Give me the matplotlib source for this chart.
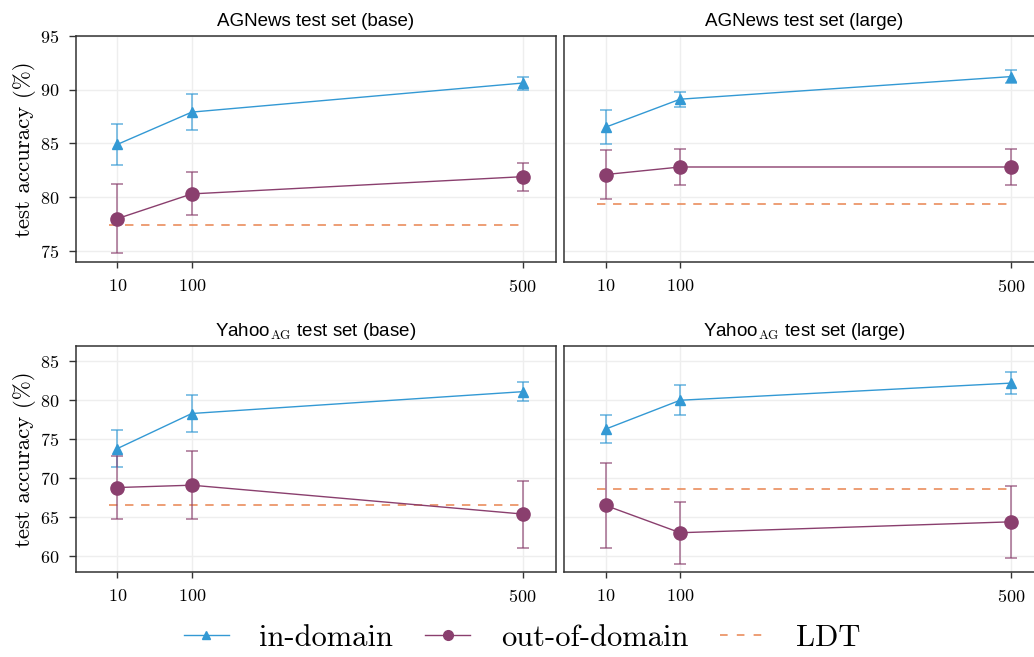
import matplotlib
matplotlib.use("Agg")
import matplotlib.pyplot as plt
from matplotlib.lines import Line2D

plt.rcParams['font.family'] = ['cmr10', 'DejaVu Serif']
plt.rcParams['mathtext.fontset'] = 'cm'
plt.rcParams['axes.formatter.use_mathtext'] = True

# Data
shots = [10, 100, 500]
titles = ['AGNews test set (base)', 'AGNews test set (large)',
          r'Yahoo$_{\mathrm{AG}}$ test set (base)', r'Yahoo$_{\mathrm{AG}}$ test set (large)']

in_mean = [[84.9, 87.9, 90.6], [86.5, 89.1, 91.2], [73.8, 78.3, 81.1], [76.3, 80.0, 82.2]]
in_err = [[1.9, 1.7, 0.6], [1.6, 0.7, 0.6], [2.4, 2.4, 1.2], [1.75, 1.9, 1.4]]
out_mean = [[78.0, 80.3, 81.9], [82.1, 82.8, 82.8], [68.8, 69.1, 65.4], [66.5, 63.0, 64.4]]
out_err = [[3.2, 2.0, 1.3], [2.3, 1.7, 1.7], [4.1, 4.4, 4.3], [5.5, 4.0, 4.6]]
ldt = [77.4, 79.4, 66.6, 68.6]

ylims = [(74, 95), (74, 95), (58, 87), (58, 87)]
yticks = [[75, 80, 85, 90, 95], [75, 80, 85, 90, 95],
          [60, 65, 70, 75, 80, 85], [60, 65, 70, 75, 80, 85]]

c_in = '#3399d4'
c_out = '#8a3f6e'
c_ldt = '#e8844f'

W, H = 1034, 657
fig = plt.figure(figsize=(W / 100, H / 100), dpi=100)

lefts = [76, 564.3, 76, 564.3]
tops = [35.7, 35.7, 345.7, 345.7]
aw, ah = 479.7, 226

for i in range(4):
    ax = fig.add_axes([lefts[i] / W, (H - tops[i] - ah) / H, aw / W, ah / H])
    ax.grid(True, color='#eeeeee', lw=1)
    ax.set_axisbelow(True)

    ax.hlines(ldt[i], 0, 500, colors=c_ldt, lw=1.1, linestyles=(0, (5.5, 5)), zorder=2)

    ax.errorbar(shots, in_mean[i], yerr=in_err[i], color=c_in, lw=1, marker='^', ms=7.5,
                capsize=4, elinewidth=1.1, capthick=1.1, ecolor=(0.2, 0.6, 0.83, 0.75), zorder=3)
    ax.errorbar(shots, out_mean[i], yerr=out_err[i], color=c_out, lw=1, marker='o', ms=9.5,
                capsize=4, elinewidth=1.1, capthick=1.1, ecolor=(0.54, 0.25, 0.43, 0.75), zorder=3)

    ax.set_xlim(-40, 540)
    ax.set_ylim(*ylims[i])
    ax.set_xticks(shots)
    ax.set_yticks(yticks[i])
    ax.tick_params(axis='both', labelsize=13, color='#333333', length=4.5, width=1, pad=7)
    ax.tick_params(axis='y', length=5)
    if i % 2 == 1:
        ax.tick_params(axis='y', left=False, labelleft=False)
    else:
        ax.set_ylabel('test accuracy (%)', fontsize=16.5, labelpad=3)
    for s in ax.spines.values():
        s.set_color('#333333')
        s.set_linewidth(1.1)
    ax.set_title(titles[i], fontsize=13.5, family=['Liberation Sans', 'DejaVu Sans'], pad=7)

handles = [
    Line2D([], [], color=c_in, lw=1, marker='^', ms=6),
    Line2D([], [], color=c_out, lw=1, marker='o', ms=7),
    Line2D([], [], color=c_ldt, lw=1.1, linestyle=(0, (5, 6))),
]
fig.legend(handles, ['in-domain', 'out-of-domain', 'LDT'], loc='center',
           bbox_to_anchor=(0.505, 1 - 638 / H), ncol=3, frameon=False, fontsize=22,
           handlelength=1.47, columnspacing=1.05, handletextpad=1.0)

fig.savefig('out.png', dpi=100)
